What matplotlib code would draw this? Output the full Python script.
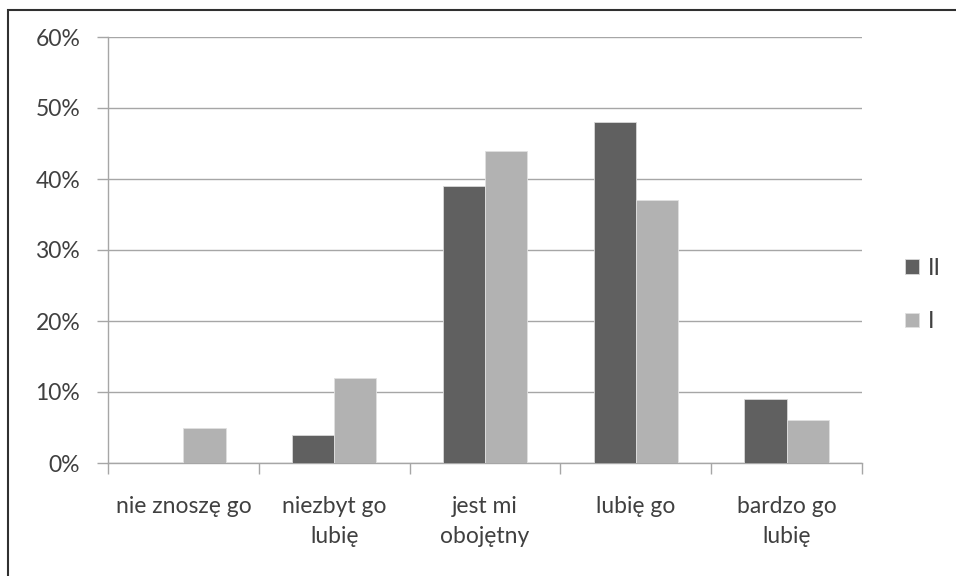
import numpy as np
import matplotlib
matplotlib.use('Agg')
import matplotlib.pyplot as plt
from matplotlib.patches import Rectangle

plt.rcParams['font.family'] = ['Lato', 'DejaVu Sans']

categories = ['nie znoszę go', 'niezbyt go\nlubię', 'jest mi\nobojętny', 'lubię go', 'bardzo go\nlubię']
series_names = ['II', 'I']
values_II = [0, 4, 39, 48, 9]
values_I = [5, 12, 44, 37, 6]
yticks = [0, 10, 20, 30, 40, 50, 60]

colors = ['#606060', '#b2b2b2']
grid_col = '#a6a6a6'
fs = 16.5

fig = plt.figure(figsize=(9.56, 5.76), dpi=100)
ax = fig.add_axes([108/956, 113/576, (862-108)/956, (463-37)/576])

x = np.arange(len(categories))
w = 0.28
ax.bar(x - w/2, values_II, w, color=colors[0], edgecolor='#d8d8d8', linewidth=0.6, label=series_names[0], zorder=3)
ax.bar(x + w/2, values_I, w, color=colors[1], edgecolor='#e0e0e0', linewidth=0.6, label=series_names[1], zorder=3)

ax.set_xlim(-0.5, len(categories) - 0.5)
ax.set_ylim(0, 60)
ax.set_yticks(yticks)
ax.set_yticklabels(['%d%%' % t for t in yticks], fontsize=fs, color='#404040')
ax.yaxis.grid(True, color=grid_col, linewidth=1)
ax.set_axisbelow(True)

ax.set_xticks(x)
ax.set_xticklabels(categories, fontsize=fs, color='#404040', linespacing=1.5, va='top')
ax.set_xticks(np.arange(-0.5, len(categories)), minor=True)
ax.tick_params(axis='x', which='major', length=0, pad=24)
ax.tick_params(axis='x', which='minor', length=8, color=grid_col, width=1)
ax.tick_params(axis='y', length=8, color=grid_col, width=1, pad=12)

for s in ['top', 'right']:
    ax.spines[s].set_visible(False)
for s in ['left', 'bottom']:
    ax.spines[s].set_color(grid_col)
    ax.spines[s].set_linewidth(1)

lgd = fig.legend(loc='center left', bbox_to_anchor=(905/956, 1 - 295/576), frameon=False,
                 fontsize=fs, handlelength=0.62, handleheight=0.62, handletextpad=0.4,
                 labelspacing=1.4, borderpad=0, borderaxespad=0)
for t in lgd.get_texts():
    t.set_color('#404040')

# outer chart border
fig.patches.append(Rectangle((8/956, -0.1), 1.2, 1 - 10/576 + 0.1, transform=fig.transFigure,
                             fill=False, edgecolor='#303030', linewidth=1.5))

plt.savefig('out.png', dpi=100)
